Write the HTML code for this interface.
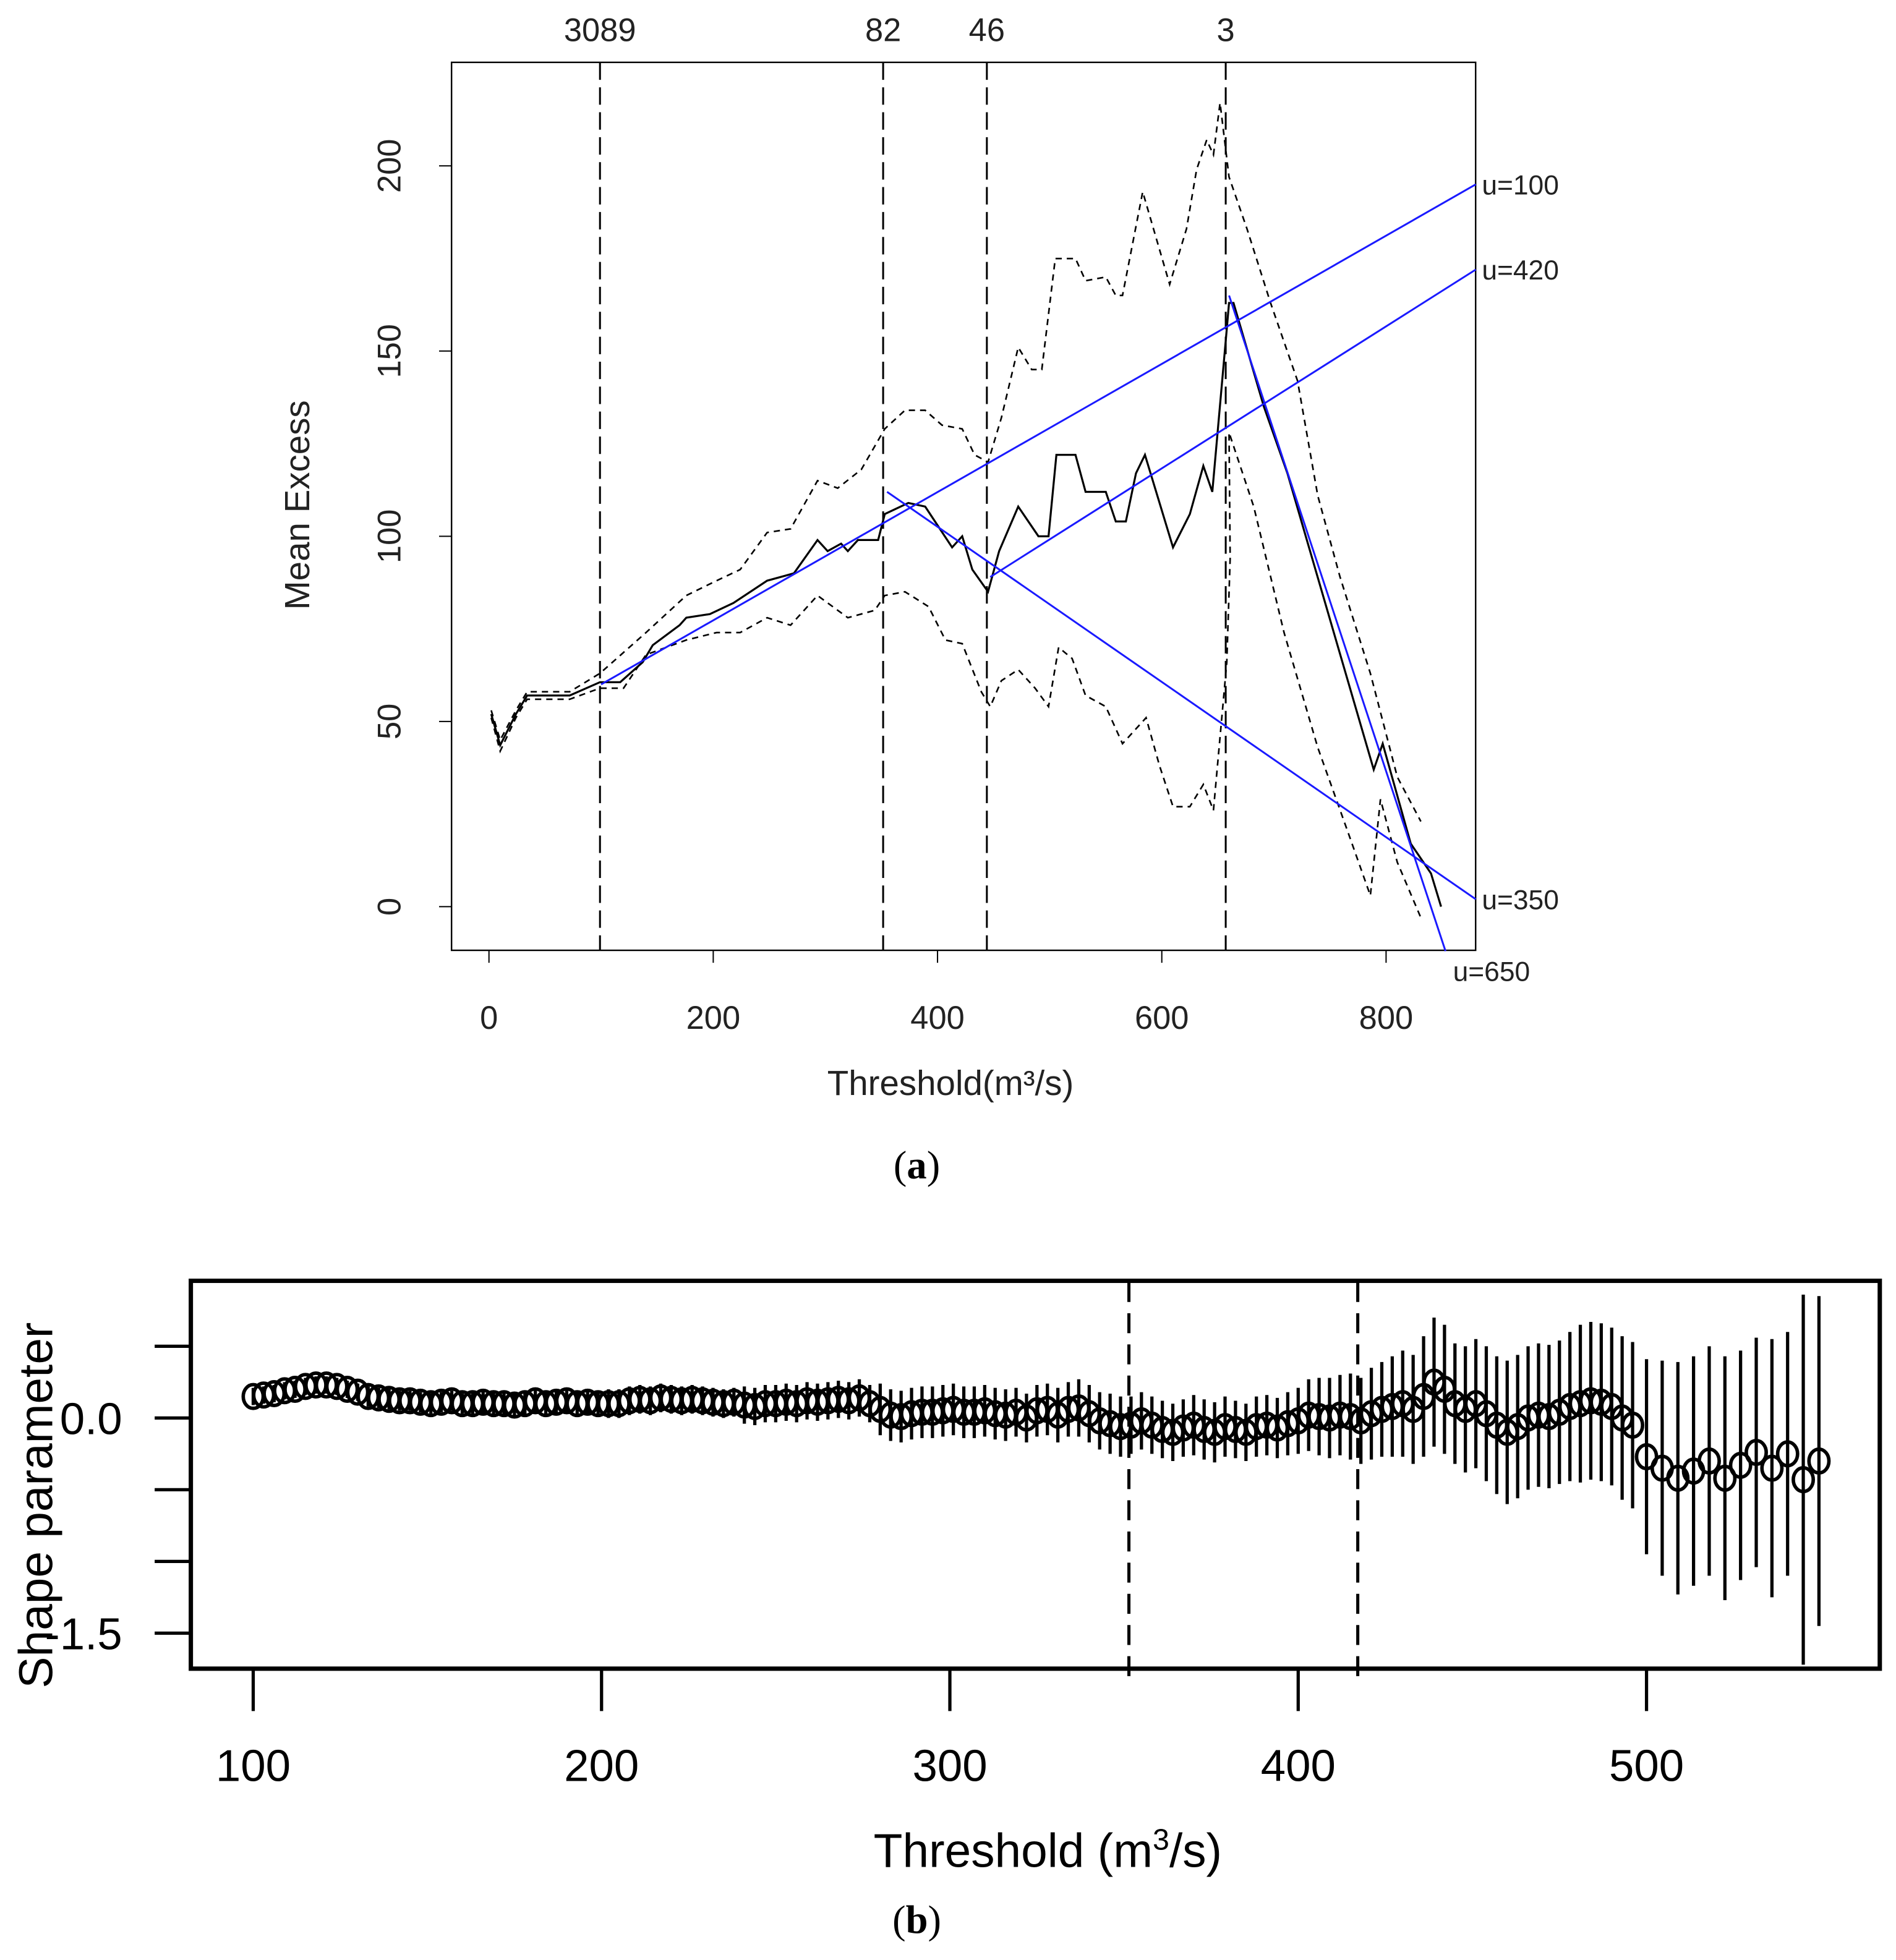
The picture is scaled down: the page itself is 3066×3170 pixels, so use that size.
<!DOCTYPE html>
<html><head><meta charset="utf-8"><style>
html,body{margin:0;padding:0;background:#fff;}
svg{display:block;}
</style></head><body>
<svg id="fig" width="3066" height="3170" viewBox="0 0 1520 1571.6" preserveAspectRatio="none" xmlns="http://www.w3.org/2000/svg" font-family="Liberation Sans, sans-serif">
<g id="gtop"></g>
<g id="gbot"></g>
</svg>
<script>
// ---- Chart (a) data ----
const meX = [2,10,24,34,72,99,117,137,146,170,176,197,218,248,272,293,302,314,320,329,347,353,374,389,413,422,431,445,455,472,490,499,506,523,532,550,559,568,577,585,610,625,637,645,658,660,664,691,712,789,797,822,840,849];
const meY = [52,43.6,52,57,57,60.6,60.6,66,70.6,76,78,79,82,88,90,99,96,98,96,99,99,106,109,108,97,100,91,85,96,108,100,100,122,122,112,112,104,104,117,122,97,106,119,112,156,163,163,135,117,37,44,17,9,0];
const upX = [2,10,24,34,72,99,140,176,203,224,248,269,293,311,332,353,371,389,404,422,433,445,457,472,484,493,505,523,532,550,559,565,583,607,622,631,640,646,652,660,676,697,721,739,759,786,810,831];
const upY = [53,45,53,58,58,63,74,84,88,91,101,102,115,113,118,129,134,134,130,129,122,120,132,151,145,145,175,175,169,170,165,165,193,168,183,199,207,203,217,197,183,163,142,111,89,63,35,23];
const loX = [2,10,24,34,72,99,120,140,176,203,224,248,269,293,320,344,353,371,392,407,422,439,447,457,472,487,499,508,520,532,550,565,586,598,610,625,637,646,658,661,660,682,709,739,765,786,795,810,831];
const loY = [51,42,51,56,56,59,59,68,72,74,74,78,76,84,78,80,84,85,81,72,71,58,54,61,64,59,54,70,67,57,54,44,51,38,27,27,33,26,66,94,128,108,74,43,21,3,29,12,-3];
const thrLines = [99,351.5,444,657];
const thrLabels = ["3089","82","46","3"];
const fitStart = [[100,60],[447,89],[355,112],[660,165]];
const fitEnd = [[880,195],[880,172],[880,2],[853,-12]];
const fitLabels = ["u=100","u=420","u=350","u=650"];
const topXTicks = [0,200,400,600,800];
const topYTicks = [0,50,100,150,200];

// ---- Chart (b) data ----
const shX1 = [100,103,106,109,112,115,118,121,124,127,130,133,136,139,142,145,148,151,154,157,160,163,166,169,172,175,178,181,184,187,190,193,196,199,202,205,208,211,214,217,220,223,226,229,232,235,238,241,244,247,250,253,256,259,262,265,268,271,274,277,280,283,286,289,292,295,298,301,304,307,310,313,316,319,322,325,328,331,334,337,340,343,346,349,352,355,358,361,364,367,370,373,376,379,382,385,388,391,394,397,400,403,406,409,412,415,418,421,424,427,430,433,436,439,442,445,448,451,454,457,460,463,466,469,472,475,478,481,484,487,490,493,496];
const shX2 = [500,504.5,509,513.5,518,522.5,527,531.5,536,540.5,545,549.5];
const shY = [0.15,0.16,0.17,0.19,0.2,0.22,0.23,0.23,0.22,0.2,0.18,
0.15,0.14,0.13,0.12,0.12,0.11,0.1,0.11,0.12,0.1,
0.1,0.11,0.1,0.1,0.09,0.1,0.12,0.1,0.11,0.12,0.1,0.11,0.1,
0.1,0.1,0.12,0.13,0.12,0.14,0.13,0.12,0.13,0.12,0.11,0.1,0.11,
0.09,0.08,0.1,0.1,0.11,0.1,0.12,0.11,0.12,0.13,0.12,0.14,0.1,
0.06,0.02,0.01,0.03,0.04,0.04,0.05,0.06,0.04,0.04,0.05,0.03,0.02,
0.04,0.0,0.05,0.06,0.02,0.06,0.07,0.03,-0.02,-0.04,-0.06,-0.05,-0.02,
-0.05,-0.08,-0.1,-0.07,-0.05,-0.08,-0.1,-0.06,-0.08,-0.1,-0.06,-0.05,-0.07,
-0.04,-0.02,0.02,0.01,0.0,0.02,0.01,-0.02,0.03,0.06,0.08,0.1,0.06,
0.15,0.25,0.2,0.1,0.06,0.1,0.03,-0.05,-0.1,-0.06,0.0,0.02,0.01,
0.04,0.08,0.1,0.12,0.11,0.08,0.0,-0.05,
-0.27,-0.35,-0.42,-0.37,-0.3,-0.42,-0.33,-0.24,-0.35,-0.25,-0.43,-0.3];
const shHW = [0.06,0.06,0.06,0.06,0.06,0.06,0.06,0.06,0.06,0.06,0.06,
0.07,0.07,0.07,0.07,0.07,0.07,0.07,0.07,0.07,0.07,
0.08,0.08,0.08,0.08,0.08,0.08,0.08,0.08,0.08,0.08,0.08,0.08,0.08,
0.1,0.1,0.1,0.1,0.1,0.1,0.1,0.1,0.1,0.1,0.1,0.1,0.1,
0.13,0.13,0.13,0.13,0.13,0.13,0.13,0.13,0.13,0.13,0.13,0.13,0.13,
0.18,0.18,0.18,0.18,0.18,0.18,0.18,0.18,0.18,0.18,0.18,0.18,0.18,
0.17,0.17,0.18,0.18,0.19,0.19,0.2,0.2,0.2,0.21,0.21,0.2,0.2,
0.2,0.2,0.2,0.2,0.21,0.21,0.21,0.21,0.2,0.2,0.21,0.21,0.21,
0.22,0.23,0.25,0.27,0.28,0.28,0.3,0.3,0.32,0.33,0.35,0.37,0.38,
0.42,0.45,0.45,0.42,0.44,0.45,0.47,0.48,0.5,0.5,0.5,0.5,0.5,
0.5,0.52,0.55,0.55,0.55,0.55,0.57,0.58,
0.68,0.75,0.81,0.8,0.8,0.85,0.8,0.8,0.9,0.85,1.29,1.15];
const shDash = [351.4,417.1];
const botXTicks = [100,200,300,400,500];
const botYTicks = [0.5,0,-0.5,-1,-1.5];
const botYLabels = [[0,"0.0"],[-1.5,"-1.5"]];

const NS = "http://www.w3.org/2000/svg";
function mk(parent, tag, attrs, text){
  const e = document.createElementNS(NS, tag);
  for (const k in attrs) e.setAttribute(k, attrs[k]);
  if (text !== undefined) e.textContent = text;
  parent.appendChild(e);
  return e;
}
const gTop = document.getElementById('gtop');
const gBot = document.getElementById('gbot');
const tx = v => 392 + v*0.899;
const ty = v => 727 - v*2.97;
const bx = v => 203 + (v-100)*2.7925;
const by = v => 1137 - v*115;

// ---- draw (a) ----
let el = mk(gTop,'rect',{x:362,y:50,width:821,height:712,fill:'none',stroke:'#000','stroke-width':1.2});


topXTicks.forEach(v=>{
  let t = mk(gTop,'line',{x1:tx(v),x2:tx(v),y1:762,y2:772,stroke:'#000','stroke-width':1});
  
  
  let l = mk(gTop,'text',{x:tx(v),y:825,'font-size':26,'text-anchor':'middle',fill:'#222'},String(v));
  
  
});
topYTicks.forEach(v=>{
  let t = mk(gTop,'line',{x1:352,x2:362,y1:ty(v),y2:ty(v),stroke:'#000','stroke-width':1});
  
  
  let l = mk(gTop,'text',{x:0,y:0,'font-size':26,'text-anchor':'middle',fill:'#222',transform:`translate(321,${ty(v)}) rotate(-90)`},String(v));
  
  
});
thrLines.forEach((v,i)=>{
  let d = mk(gTop,'line',{x1:tx(v),x2:tx(v),y1:50,y2:762,stroke:'#000','stroke-width':1.5,'stroke-dasharray':'14,6'});
  
  
  let l = mk(gTop,'text',{x:tx(v),y:33,'font-size':26,'text-anchor':'middle',fill:'#222'},thrLabels[i]);
  
  
});
function poly(g, xs, ys, attrs, name){
  const pts = xs.map((x,i)=>tx(x).toFixed(1)+','+ty(ys[i]).toFixed(1)).join(' ');
  const p = mk(g,'polyline',Object.assign({points:pts,fill:'none'},attrs));
  
  
}
poly(gTop, upX, upY, {stroke:'#000','stroke-width':1.3,'stroke-dasharray':'5,4'}, 'upper-ci-line');
poly(gTop, loX, loY, {stroke:'#000','stroke-width':1.3,'stroke-dasharray':'5,4'}, 'lower-ci-line');
poly(gTop, meX, meY, {stroke:'#000','stroke-width':1.6}, 'mean-excess-line');
fitStart.forEach((s,i)=>{
  const e = fitEnd[i];
  let ln = mk(gTop,'line',{x1:tx(s[0]),y1:ty(s[1]),x2:tx(e[0]),y2:ty(e[1]),stroke:'#1a1aff','stroke-width':1.5});
  
  
  const lx = i===3 ? tx(e[0])+6 : 1188;
  const ly = i===3 ? ty(e[1])+24 : ty(e[1])+8;
  let l = mk(gTop,'text',{x:lx,y:ly,'font-size':22,fill:'#222'},fitLabels[i]);
  
  
});
el = mk(gTop,'text',{x:0,y:0,'font-size':28,'text-anchor':'middle',fill:'#222',transform:'translate(248,405) rotate(-90)'},'Mean Excess');


el = mk(gTop,'text',{x:762,y:878,'font-size':28,'text-anchor':'middle',fill:'#222'},'Threshold(m³/s)');


el = mk(gTop,'text',{x:735,y:945,'font-size':32,'text-anchor':'middle',fill:'#000','font-family':'Liberation Serif, serif'});


el.innerHTML = '(<tspan font-weight="bold">a</tspan>)';

// ---- draw (b) ----
const allX = shX1.concat(shX2);
shDash.forEach(v=>{
  let d = mk(gBot,'line',{x1:bx(v),x2:bx(v),y1:1028,y2:1345,stroke:'#000','stroke-width':2.5,'stroke-dasharray':'16,9'});
  
  
});
allX.forEach((x,i)=>{
  let c = mk(gBot,'line',{x1:bx(x),x2:bx(x),y1:by(shY[i]+shHW[i]),y2:by(shY[i]-shHW[i]),stroke:'#000','stroke-width':2.6});
  
  
});
allX.forEach((x,i)=>{
  let p = mk(gBot,'ellipse',{cx:bx(x),cy:by(shY[i]),rx:8,ry:9.5,fill:'none',stroke:'#000','stroke-width':2.8});
  
  
});
el = mk(gBot,'rect',{x:153,y:1027,width:1354,height:311,fill:'none',stroke:'#000','stroke-width':3.5});


botXTicks.forEach(v=>{
  let t = mk(gBot,'line',{x1:bx(v),x2:bx(v),y1:1338,y2:1372,stroke:'#000','stroke-width':2.6});
  
  
  let l = mk(gBot,'text',{x:bx(v),y:1428,'font-size':36,'text-anchor':'middle',fill:'#000'},String(v));
  
  
});
botYTicks.forEach(v=>{
  let t = mk(gBot,'line',{x1:124,x2:153,y1:by(v),y2:by(v),stroke:'#000','stroke-width':2.6});
  
  
});
botYLabels.forEach(p=>{
  let l = mk(gBot,'text',{x:98,y:by(p[0])+13,'font-size':36,'text-anchor':'end',fill:'#000'},p[1]);
  
  
});
el = mk(gBot,'text',{x:0,y:0,'font-size':38,'text-anchor':'middle',fill:'#000',transform:'translate(42,1207) rotate(-90)'},'Shape parameter');


el = mk(gBot,'text',{x:840,y:1497,'font-size':38,'text-anchor':'middle',fill:'#000'});


el.innerHTML = 'Threshold (m<tspan font-size="24" dy="-14">3</tspan><tspan dy="14">/s)</tspan>';
el = mk(gBot,'text',{x:735,y:1550,'font-size':32,'text-anchor':'middle',fill:'#000','font-family':'Liberation Serif, serif'});


el.innerHTML = '(<tspan font-weight="bold">b</tspan>)';
</script>
</body></html>
